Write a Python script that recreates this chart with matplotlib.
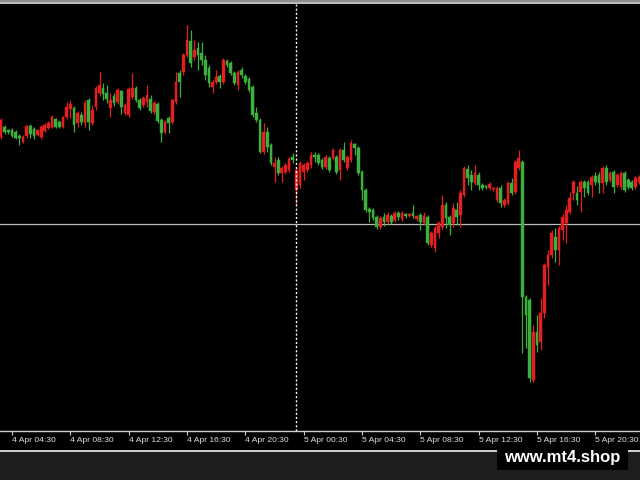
import numpy as np
import pandas as pd
import matplotlib
matplotlib.use("Agg")
import matplotlib.pyplot as plt
from matplotlib.patches import Rectangle
from matplotlib.lines import Line2D

# M15 bars, 4 Apr 03:45 -> 5 Apr 23:30 (arbitrary price units)
times = pd.date_range("2013-04-04 03:45", periods=176, freq="15min")

opens = [363, 373, 370, 370, 368, 364, 358, 364, 374, 371, 365, 363, 369, 372, 373, 381,
         378, 373, 383, 391, 392, 377, 385, 377, 400, 377, 393, 407, 412, 407, 392, 404,
         398, 409, 387, 385, 403, 412, 400, 395, 398, 401, 388, 396, 380, 368, 382, 378,
         398, 427, 428, 445, 459, 443, 452, 447, 440, 432, 413, 418, 424, 418, 439, 437,
         427, 415, 430, 424, 421, 413, 387, 380, 348, 368, 355, 333, 340, 327, 328, 330,
         343, 310, 315, 328, 330, 335, 345, 345, 340, 333, 342, 342, 343, 330, 350, 332,
         340, 356, 352, 328, 310, 291, 290, 283, 273, 283, 278, 284, 280, 287, 281, 286,
         284, 287, 281, 285, 277, 283, 255, 252, 267, 273, 295, 283, 277, 290, 285, 305,
         331, 325, 317, 325, 315, 314, 312, 311, 300, 312, 295, 297, 317, 308, 332, 338,
         203, 200, 120, 168, 158, 187, 233, 245, 263, 250, 270, 277, 288, 307, 307, 308,
         318, 318, 315, 324, 325, 317, 332, 320, 328, 315, 313, 327, 320, 318, 313, 318]

highs = [382, 375, 371, 372, 370, 366, 365, 375, 376, 373, 371, 375, 377, 379, 385, 382,
         380, 384, 398, 400, 394, 389, 388, 400, 402, 395, 414, 428, 417, 415, 407, 407,
         412, 410, 397, 413, 427, 414, 402, 404, 415, 405, 399, 398, 382, 380, 384, 402,
         428, 430, 447, 475, 470, 460, 458, 458, 445, 435, 420, 430, 426, 442, 441, 439,
         429, 430, 433, 426, 423, 415, 393, 382, 377, 373, 357, 343, 343, 334, 337, 343,
         347, 332, 339, 337, 339, 348, 348, 347, 342, 345, 344, 352, 345, 352, 358, 345,
         360, 357, 354, 330, 312, 293, 292, 285, 284, 287, 288, 286, 289, 289, 289, 287,
         287, 295, 285, 287, 288, 285, 269, 274, 279, 305, 298, 285, 297, 298, 310, 334,
         335, 330, 335, 328, 317, 315, 318, 313, 314, 315, 302, 319, 322, 340, 350, 340,
         205, 202, 175, 185, 202, 237, 250, 270, 272, 274, 286, 295, 308, 320, 314, 320,
         320, 320, 325, 328, 328, 334, 335, 329, 330, 327, 329, 329, 322, 320, 324, 325]

lows = [361, 366, 366, 363, 361, 355, 357, 362, 362, 361, 364, 361, 368, 371, 372, 372,
        372, 372, 381, 382, 368, 373, 375, 373, 370, 375, 390, 404, 400, 397, 383, 394,
        396, 386, 385, 383, 401, 398, 390, 393, 393, 387, 386, 377, 358, 366, 367, 376,
        396, 403, 425, 443, 433, 440, 430, 435, 420, 413, 407, 416, 412, 416, 433, 425,
        415, 410, 422, 416, 408, 383, 378, 347, 346, 348, 335, 318, 325, 318, 326, 328,
        337, 295, 312, 320, 328, 332, 338, 335, 331, 331, 328, 340, 326, 320, 338, 330,
        338, 345, 325, 300, 288, 278, 280, 271, 271, 274, 276, 276, 278, 280, 279, 282,
        283, 282, 279, 270, 275, 255, 253, 248, 262, 271, 272, 265, 273, 275, 273, 303,
        315, 310, 315, 310, 310, 311, 310, 309, 298, 293, 293, 295, 305, 306, 330, 147,
        152, 118, 118, 148, 150, 182, 215, 242, 238, 235, 260, 257, 286, 300, 295, 288,
        303, 305, 303, 315, 307, 307, 315, 318, 307, 313, 311, 308, 311, 310, 311, 316]

closes = [380, 368, 368, 364, 362, 362, 363, 374, 366, 364, 370, 373, 375, 377, 383, 373,
          373, 383, 393, 396, 375, 387, 378, 397, 378, 390, 412, 415, 406, 401, 400, 397,
          410, 393, 395, 411, 412, 400, 392, 402, 405, 389, 397, 379, 367, 378, 377, 400,
          418, 418, 445, 460, 437, 450, 445, 440, 425, 417, 418, 423, 418, 440, 435, 427,
          417, 428, 425, 418, 410, 385, 380, 348, 368, 353, 337, 337, 327, 332, 335, 341,
          340, 330, 337, 335, 337, 345, 343, 337, 333, 343, 330, 350, 328, 350, 340, 343,
          357, 352, 327, 310, 290, 288, 282, 273, 282, 278, 285, 278, 287, 283, 287, 284,
          286, 284, 284, 278, 284, 257, 267, 272, 277, 295, 282, 275, 292, 283, 307, 332,
          322, 318, 327, 315, 312, 313, 316, 312, 312, 297, 300, 317, 307, 338, 342, 203,
          185, 122, 168, 155, 187, 235, 245, 267, 250, 272, 283, 290, 302, 318, 300, 318,
          312, 307, 323, 318, 317, 332, 318, 327, 313, 325, 327, 310, 313, 312, 322, 323]

sep_time = pd.Timestamp("2013-04-05 00:00")
level = 276
tick_times = pd.date_range("2013-04-04 04:30", "2013-04-05 20:30", freq="4h")

up_color = "#e41f1f"
down_color = "#3cb03c"

o = np.array(opens)
h = np.array(highs)
l = np.array(lows)
c = np.array(closes)
x = np.arange(len(times))
cols = np.where(c >= o, up_color, down_color)

fig = plt.figure(figsize=(6.4, 4.8), dpi=100, facecolor="#1e1e1e")
ax = fig.add_axes([0, 49 / 480, 1, 427 / 480], facecolor="black")

ax.vlines(x, l, h, colors=cols, linewidth=0.9, zorder=2)
body = np.maximum(np.abs(c - o), 1.2)
ax.bar(x, body, bottom=np.minimum(o, c), width=0.74, color=cols,
       edgecolor=cols, linewidth=0.3, zorder=3)

ax.axhline(level, color="#bdbdbd", linewidth=0.9, zorder=1)
sep_idx = times.get_loc(sep_time)
ax.axvline(sep_idx, color="white", linewidth=1.0, linestyle=(0, (1.5, 1.5)), zorder=4)

ax.set_xlim(-0.29, 175.24)
ax.set_ylim(69, 496)

tick_idx = [times.get_loc(t) for t in tick_times]
ax.set_xticks(tick_idx)
ax.set_xticklabels([f"{t.day} {t:%b %H:%M}" for t in tick_times],
                   ha="left", fontsize=6.1, color="#e0e0e0", family="Liberation Sans")
ax.tick_params(axis="x", length=3, width=0.8, color="#cfcfcf", pad=1.5, direction="out")
ax.set_yticks([])
for side in ["top", "left", "right"]:
    ax.spines[side].set_visible(False)
ax.spines["bottom"].set_color("#cfcfcf")
ax.spines["bottom"].set_linewidth(1.0)

# label strip and window borders
fig.add_artist(Rectangle((0, 29 / 480), 1, 20 / 480, transform=fig.transFigure,
                         facecolor="black", edgecolor="none", zorder=0))
fig.add_artist(Line2D([0, 1], [29.5 / 480] * 2, transform=fig.transFigure,
                      color="#d4d4d4", linewidth=1.4))
fig.add_artist(Rectangle((0, 476 / 480), 1, 4 / 480, transform=fig.transFigure,
                         facecolor="#8e8e8e", edgecolor="none"))
fig.add_artist(Line2D([0, 1], [477 / 480] * 2, transform=fig.transFigure,
                      color="#c4c4c4", linewidth=1.2))

# watermark
fig.add_artist(Rectangle((497 / 640, 10 / 480), 131 / 640, 22 / 480,
                         transform=fig.transFigure, facecolor="black",
                         edgecolor="none", zorder=5))
fig.text(562.5 / 640, 22.5 / 480, "www.mt4.shop", color="white", fontsize=12,
         fontweight="bold", family="Liberation Sans", ha="center", va="center", zorder=6)

fig.savefig("out.png", dpi=100, facecolor=fig.get_facecolor())
